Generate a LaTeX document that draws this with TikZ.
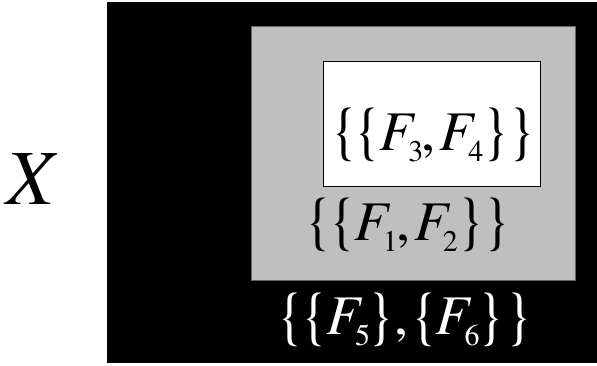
\documentclass[tikz,border=0pt]{standalone}
\usepackage{fontspec}
\usepackage{graphicx}
\newfontfamily\tnr{texgyretermes}[Extension=.otf, UprightFont=*-regular, ItalicFont=*-italic]
\newcommand{\FF}[1]{{\itshape F}\kern-5.5pt\raisebox{-11pt}{\fontsize{30}{30}\selectfont #1}}
\newcommand{\LB}{\raisebox{-0.5pt}{\scalebox{1}[1.12]{\{}}}
\newcommand{\RB}{\raisebox{-0.5pt}{\scalebox{1}[1.12]{\}}}}
\tikzset{
  lbl/.style={inner sep=0pt, font=\tnr\fontsize{56}{60}\selectfont},
}
\begin{document}
\begin{tikzpicture}[x=1pt,y=-1pt]
\useasboundingbox (0,0) rectangle (597,365);
\fill[black] (106.5,2) rectangle (597,363);
\fill[white!75!black, draw=gray!80!black, line width=0.8pt] (251.7,26.7) rectangle (575,280.7);
\fill[white, draw=black, line width=1pt] (323.3,61) rectangle (540,186);
\node[lbl] (t34) at (433.5,135) {\LB\kern-3.5pt\LB\kern-2pt\FF{3}\kern-1.5pt,\kern4pt\FF{4}\kern-0.5pt\RB\kern-1pt\RB};
\node[lbl] (t12) at (408,225) {\LB\kern-3.5pt\LB\kern-2pt\FF{1}\kern-1.5pt,\kern4pt\FF{2}\kern-0.5pt\RB\kern-1pt\RB};
\node[lbl, text=white] (t56) at (405,319.5) {\LB\kern-3pt\LB\kern-2pt\FF{5}\kern-3pt\RB\kern0pt,\kern3pt\LB\kern-2pt\FF{6}\kern-2pt\RB\kern1pt\RB};
\node[inner sep=0pt, font=\tnr\fontsize{78}{80}\selectfont\itshape] (x) at (30,179) {X};
\end{tikzpicture}
\end{document}
